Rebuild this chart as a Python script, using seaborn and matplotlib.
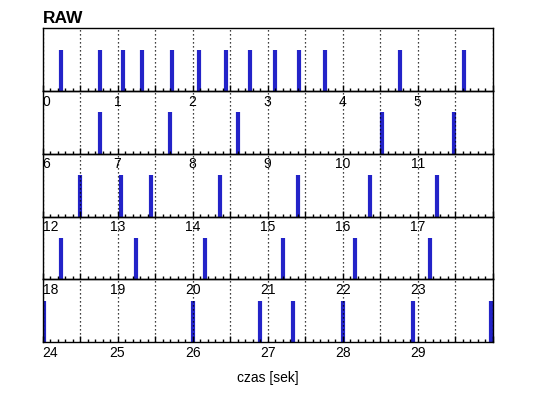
import numpy as np
import pandas as pd
import seaborn as sns
import matplotlib.pyplot as plt
import matplotlib.ticker as ticker

sns.set_style("white", {"text.color": "black", "axes.labelcolor": "black",
                        "xtick.color": "black", "axes.edgecolor": "black"})
plt.rcParams['font.family'] = ['Liberation Sans', 'DejaVu Sans']

# event times [s], one list per 6 s row
row0 = [0.25, 0.76, 1.07, 1.32, 1.73, 2.09, 2.45, 2.76, 3.10, 3.42, 3.76, 4.77, 5.61]
row1 = [6.76, 7.70, 8.61, 10.53, 11.48]
row2 = [12.50, 13.05, 13.45, 14.36, 15.40, 16.36, 17.26]
row3 = [18.25, 19.25, 20.16, 21.20, 22.16, 23.16]
row4 = [24.02, 26.00, 26.90, 27.34, 28.00, 28.93, 29.98]

rows = [row0, row1, row2, row3, row4]
row_len = 6
title = "RAW"
xlabel = "czas [sek]"
bar_color = "#2323c8"

df = pd.concat([pd.DataFrame({"t": r, "row": i}) for i, r in enumerate(rows)],
               ignore_index=True)

fig, axes = plt.subplots(5, 1, figsize=(5.38, 3.98), dpi=100)
fig.subplots_adjust(left=0.079, right=0.916, top=0.929, bottom=0.14, hspace=0)


def int_label(x, pos, lo, hi):
    if abs(x - round(x)) < 1e-6 and x < hi - 1e-6:
        return str(int(round(x)))
    return ""


for i, ax in enumerate(axes):
    lo, hi = i * row_len, (i + 1) * row_len
    sub = df[df["row"] == i]
    sns.rugplot(data=sub, x="t", height=0.66, linewidth=3, color=bar_color, ax=ax,
                expand_margins=False)
    ax.patch.set_visible(False)
    ax.set_xlim(lo, hi)
    ax.set_ylim(0, 1)
    ax.set_yticks([])
    ax.set_xlabel("")
    ax.xaxis.set_major_locator(ticker.MultipleLocator(0.5))
    ax.xaxis.set_minor_locator(ticker.MultipleLocator(0.1))
    ax.xaxis.set_major_formatter(ticker.FuncFormatter(lambda x, p, lo=lo, hi=hi: int_label(x, p, lo, hi)))
    ax.tick_params(axis='x', which='major', direction='in', length=4, width=1,
                   labelsize=10, pad=2.5, bottom=True, color='black', labelcolor='black')
    ax.tick_params(axis='x', which='minor', direction='in', length=2.2, width=1,
                   bottom=True, color='black')
    ax.grid(axis='x', which='major', color='black', linestyle=(0, (1, 2.2)), lw=0.9)
    ax.grid(axis='y', visible=False)
    ax.set_axisbelow(False)
    for s in ax.spines.values():
        s.set_color('black')
        s.set_linewidth(1)

fig.canvas.draw()
for i, ax in enumerate(axes):
    for lab in ax.get_xticklabels():
        if lab.get_text() == str(i * row_len):
            lab.set_ha('left')
            lab.set_x(i * row_len + 0.02)

axes[-1].set_xlabel(xlabel, fontsize=10, labelpad=8, color='black')
axes[0].set_title(title, loc='left', fontsize=12.5, fontweight='bold', pad=4, color='black')

fig.savefig("out.png", dpi=100)
